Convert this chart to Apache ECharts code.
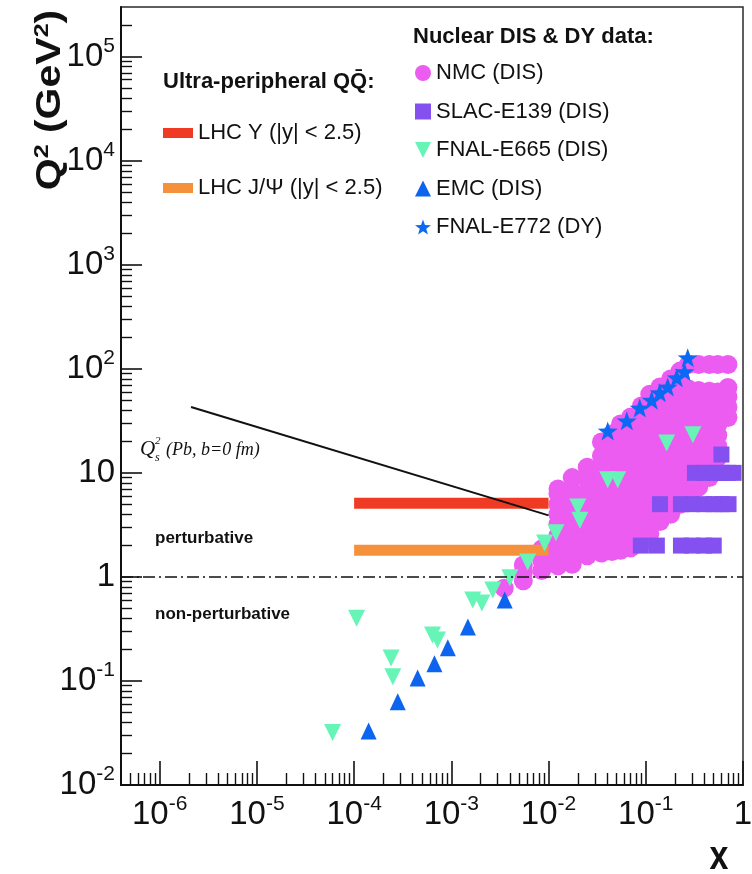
<!DOCTYPE html>
<html>
<head>
<meta charset="utf-8">
<title>Nuclear DIS &amp; DY kinematic coverage</title>
<script src="https://cdn.jsdelivr.net/npm/echarts@6/dist/echarts.min.js"></script>
<style>
  html, body { margin: 0; padding: 0; background: #ffffff; }
  #chart { width: 752px; height: 874px; }
</style>
</head>
<body>
<div id="chart"></div>
<script>
// ---- axes ----
const xRange = [4e-7, 1];
const yRange = [1e-2, 3e5];
const xTicks = [1e-6, 1e-5, 1e-4, 1e-3, 1e-2, 1e-1, 1];
const yTicks = [1e-2, 1e-1, 1, 10, 1e2, 1e3, 1e4, 1e5];

// ---- NMC (DIS): x bins and the Q^2 values measured in each bin ----
const nmcX = [0.0035, 0.0055, 0.0085, 0.0125, 0.0175, 0.025, 0.035, 0.045, 0.055, 0.07,
              0.09, 0.11, 0.14, 0.18, 0.225, 0.275, 0.35, 0.45, 0.55, 0.7];
const nmcQ2 = [
  [0.78],
  [0.92, 1.1, 1.3],
  [1.15, 1.45, 1.85],
  [1.28, 1.6, 2.0, 2.5, 3.2, 4.0, 5.0, 6.3, 7.0],
  [1.32, 1.65, 2.1, 2.6, 3.3, 4.2, 5.3, 6.7, 9.0],
  [1.6, 2.0, 2.55, 3.2, 4.1, 5.2, 6.6, 8.6, 11.3],
  [1.7, 2.15, 2.75, 3.5, 4.4, 5.6, 7.1, 9.0, 11.5, 14.6, 19.8],
  [1.75, 2.2, 2.8, 3.6, 4.5, 5.8, 7.3, 9.3, 11.8, 15, 19, 23.7],
  [1.8, 2.3, 2.9, 3.7, 4.7, 6.0, 7.6, 9.7, 12.3, 15.6, 19.8, 25, 29.5],
  [1.9, 2.45, 3.1, 4.0, 5.1, 6.5, 8.3, 10.5, 13.4, 17, 21.6, 27.5, 34.4],
  [2.1, 2.7, 3.4, 4.3, 5.5, 7.0, 8.9, 11.3, 14.3, 18.2, 23, 29, 36, 44],
  [2.6, 3.3, 4.2, 5.3, 6.7, 8.5, 10.8, 13.7, 17.4, 22, 28, 35.5, 45, 57],
  [3.4, 4.3, 5.5, 7.0, 8.9, 11.3, 14.3, 18.2, 23, 29, 37, 47, 58, 67],
  [4.0, 5.1, 6.5, 8.2, 10.4, 13.2, 16.8, 21.3, 27, 34, 43, 55, 68, 80],
  [5.0, 6.3, 8.0, 10.2, 13, 16.5, 21, 26.6, 34, 43, 54, 68, 82, 95],
  [6.0, 7.6, 9.7, 12.3, 15.6, 19.8, 25, 32, 40, 51, 64, 110],
  [7.3, 9.3, 11.8, 15, 19, 24, 30.5, 39, 49, 62, 110],
  [9.0, 11.4, 14.5, 18.4, 23.4, 29.7, 37.7, 48, 61, 110],
  [14, 18, 23, 29, 37, 47, 60, 110],
  [34, 43, 54, 66, 110]
];

// ---- SLAC-E139 (DIS) ----
const slacX  = [0.089, 0.13, 0.23, 0.3, 0.4, 0.5,
                0.14, 0.23, 0.3, 0.4, 0.5, 0.6, 0.71,
                0.32, 0.4, 0.5, 0.6, 0.7, 0.8,
                0.6];
const slacQ2 = [2, 2, 2, 2, 2, 2,
                5, 5, 5, 5, 5, 5, 5,
                10, 10, 10, 10, 10, 10,
                15];

// ---- FNAL-E665 (DIS) ----
const e665X  = [6.0e-5, 1.06e-4, 2.4e-4, 2.5e-4, 6.4e-4, 7.2e-4, 1.66e-3, 2.06e-3, 2.67e-3,
                4.0e-3, 6.1e-3, 9.1e-3, 0.0119, 0.020, 0.021, 0.0406, 0.0515, 0.164, 0.305];
const e665Q2 = [0.032, 0.40, 0.166, 0.11, 0.277, 0.248, 0.60, 0.56, 0.75,
                0.98, 1.39, 2.12, 2.65, 4.7, 3.5, 8.6, 8.6, 19.4, 23.2];

// ---- EMC (DIS) ----
const emcX  = [1.41e-4, 2.81e-4, 4.5e-4, 6.7e-4, 9.2e-4, 1.48e-3, 3.54e-3];
const emcQ2 = [0.033, 0.063, 0.107, 0.146, 0.208, 0.33, 0.60];

// ---- FNAL-E772 (DY) ----
const e772X  = [0.0406, 0.0638, 0.0867, 0.115, 0.139, 0.168, 0.208, 0.25, 0.27];
const e772Q2 = [25.3, 31.6, 42, 50, 59, 67, 82, 94, 128];

// ---- ultra-peripheral quarkonia coverage and saturation scale ----
const upsX = [1e-4, 1e-2];  const upsQ2 = 5.1;
const jpsiX = [1e-4, 1e-2]; const jpsiQ2 = 1.8;
const qsX = [2.1e-6, 1e-2]; const qsQ2 = [43, 3.9];
const perturbativeBoundary = 1;

// ---- names ----
const N_NMC = 'NMC (DIS)';
const N_SLAC = 'SLAC-E139 (DIS)';
const N_E665 = 'FNAL-E665 (DIS)';
const N_EMC = 'EMC (DIS)';
const N_E772 = 'FNAL-E772 (DY)';
const N_UPS = 'LHC \u03A5 (|y| < 2.5)';
const N_JPSI = 'LHC J/\u03A8 (|y| < 2.5)';

const COL = {
  nmc: '#ec5cf1', slac: '#8450ef', e665: '#66f5b6', emc: '#0d64ee', e772: '#0a6af4',
  ups: '#f03b24', jpsi: '#f5913a', ink: '#111111'
};
const SANS = "'Liberation Sans', Arial, Helvetica, sans-serif";
const SERIF = "'Liberation Serif', 'Times New Roman', serif";

// symbol shapes
const DOWN_TRI = 'path://M0,0L20,0L10,20Z';
const STAR = 'path://M10,0L12.35,6.76L19.51,6.91L13.8,11.24L15.88,18.09L10,14L4.12,18.09L6.2,11.24L0.49,6.91L7.65,6.76Z';

// minor ticks at 2..9 x 10^n inside an axis range
function minorTicks(range) {
  const out = [];
  const e0 = Math.floor(Math.log10(range[0]));
  const e1 = Math.ceil(Math.log10(range[1]));
  for (let e = e0; e <= e1; e++) {
    for (let k = 2; k <= 9; k++) {
      const v = k * Math.pow(10, e);
      if (v > range[0] && v < range[1]) out.push(v);
    }
  }
  return out;
}

function powLabel(v) {
  const e = Math.round(Math.log10(v));
  if (e === 0) return '{b|1}';
  if (e === 1) return '{b|10}';
  return '{b|10}{s|' + e + '}';
}
const labelRich = {
  b: { fontFamily: SANS, fontSize: 33, lineHeight: 42, color: COL.ink },
  s: { fontFamily: SANS, fontSize: 21, lineHeight: 21, verticalAlign: 'top', color: COL.ink }
};

const pairs = (xs, ys) => xs.map((x, i) => [x, ys[i]]);
const nmcData = [];
nmcX.forEach((x, i) => nmcQ2[i].forEach(q => nmcData.push([x, q])));

function logAxis(range, pos, major, extra) {
  return Object.assign({
    type: 'log', logBase: 10, min: range[0], max: range[1], position: pos,
    axisLine: { show: major, onZero: false, lineStyle: { color: COL.ink, width: 2 } },
    splitLine: { show: false }, minorTick: { show: false }, minorSplitLine: { show: false }
  }, extra);
}

function markers(name, symbol, size, color, data, z) {
  return {
    name: name, type: 'scatter', symbol: symbol, symbolSize: size, symbolKeepAspect: symbol === STAR,
    itemStyle: { color: color, opacity: 1 }, emphasis: { disabled: true },
    data: data, z: z
  };
}

function flatLine(name, color, width, data, z) {
  return {
    name: name, type: 'line', symbol: 'none', color: color,
    lineStyle: { color: color, width: width, cap: 'butt' },
    emphasis: { disabled: true }, data: data, z: z
  };
}

const option = {
  animation: false,
  backgroundColor: '#ffffff',
  grid: {
    left: 121, right: 9, top: 7, bottom: 89,
    show: true, borderColor: '#2a2a2a', borderWidth: 1.5, backgroundColor: 'transparent',
    containLabel: false, outerBoundsMode: 'none'
  },
  xAxis: [
    logAxis(xRange, 'bottom', true, {
      axisTick: { show: true, inside: true, length: 24, customValues: xTicks, lineStyle: { color: COL.ink, width: 1.6 } },
      axisLabel: { show: true, customValues: xTicks, margin: 9, formatter: powLabel, rich: labelRich }
    }),
    logAxis(xRange, 'bottom', false, {
      axisTick: { show: true, inside: true, length: 12, customValues: minorTicks(xRange), lineStyle: { color: COL.ink, width: 1.4 } },
      axisLabel: { show: false }
    })
  ],
  yAxis: [
    logAxis(yRange, 'left', true, {
      axisTick: { show: true, inside: true, length: 21, customValues: yTicks, lineStyle: { color: COL.ink, width: 1.6 } },
      axisLabel: { show: true, customValues: yTicks, margin: 6, formatter: powLabel, rich: labelRich }
    }),
    logAxis(yRange, 'left', false, {
      axisTick: { show: true, inside: true, length: 11, customValues: minorTicks(yRange), lineStyle: { color: COL.ink, width: 1.4 } },
      axisLabel: { show: false }
    })
  ],
  legend: [
    {
      left: 415, top: 61, orient: 'vertical', padding: 0, itemGap: 14.5,
      itemWidth: 16, itemHeight: 16, selectedMode: false,
      textStyle: { fontFamily: SANS, fontSize: 22, lineHeight: 24, color: COL.ink },
      data: [
        { name: N_NMC, icon: 'circle' },
        { name: N_SLAC, icon: 'rect' },
        { name: N_E665, icon: DOWN_TRI },
        { name: N_EMC, icon: 'triangle' },
        { name: N_E772, icon: STAR }
      ]
    },
    {
      left: 163, top: 121, orient: 'vertical', padding: 0, itemGap: 31,
      itemWidth: 30, itemHeight: 10, selectedMode: false,
      textStyle: { fontFamily: SANS, fontSize: 22, lineHeight: 24, color: COL.ink },
      data: [
        { name: N_UPS, icon: 'rect' },
        { name: N_JPSI, icon: 'rect' }
      ]
    }
  ],
  graphic: [
    {
      // rotated axis title, slightly condensed across the glyphs
      type: 'text', x: 50, y: 100, rotation: Math.PI / 2, scaleY: 0.84,
      style: {
        text: '{t|Q}{u|2}{t| (GeV}{u|2}{t|)}',
        align: 'center', verticalAlign: 'middle',
        rich: {
          t: { fontFamily: SANS, fontWeight: 'bold', fontSize: 41, lineHeight: 44, fill: COL.ink, color: COL.ink },
          u: { fontFamily: SANS, fontWeight: 'bold', fontSize: 25, lineHeight: 25, verticalAlign: 'top', fill: COL.ink, color: COL.ink }
        }
      }
    },
    {
      type: 'text', x: 719, y: 858, scaleX: 0.85,
      style: { text: 'x', font: 'bold 40px ' + SANS, fill: COL.ink, align: 'center', verticalAlign: 'middle' }
    },
    {
      type: 'text', x: 163, y: 82,
      style: { text: 'Ultra-peripheral Q\u0051\u0304:', font: 'bold 22px ' + SANS, fill: COL.ink, align: 'left', verticalAlign: 'middle' }
    },
    {
      type: 'text', x: 413, y: 37,
      style: { text: 'Nuclear DIS & DY data:', font: 'bold 22px ' + SANS, fill: COL.ink, align: 'left', verticalAlign: 'middle' }
    },
    {
      type: 'text', x: 155, y: 538,
      style: { text: 'perturbative', font: 'bold 17px ' + SANS, fill: COL.ink, align: 'left', verticalAlign: 'middle' }
    },
    {
      type: 'text', x: 155, y: 614,
      style: { text: 'non-perturbative', font: 'bold 17px ' + SANS, fill: COL.ink, align: 'left', verticalAlign: 'middle' }
    },
    {
      type: 'text', x: 140, y: 449,
      style: { text: 'Q', font: 'italic 21px ' + SERIF, fill: COL.ink, align: 'left', verticalAlign: 'middle' }
    },
    {
      type: 'text', x: 155, y: 441,
      style: { text: '2', font: 'italic 11px ' + SERIF, fill: COL.ink, align: 'left', verticalAlign: 'middle' }
    },
    {
      type: 'text', x: 155, y: 458,
      style: { text: 's', font: 'italic 12px ' + SERIF, fill: COL.ink, align: 'left', verticalAlign: 'middle' }
    },
    {
      type: 'text', x: 166, y: 450,
      style: { text: '(Pb, b=0 fm)', font: 'italic 18px ' + SERIF, fill: COL.ink, align: 'left', verticalAlign: 'middle' }
    }
  ],
  series: [
    markers(N_NMC, 'circle', 19, COL.nmc, nmcData, 2),
    markers(N_SLAC, 'rect', 16, COL.slac, pairs(slacX, slacQ2), 3),
    markers(N_E665, DOWN_TRI, [17, 17], COL.e665, pairs(e665X, e665Q2), 4),
    markers(N_EMC, 'triangle', [16, 17], COL.emc, pairs(emcX, emcQ2), 4),
    markers(N_E772, STAR, 20, COL.e772, pairs(e772X, e772Q2), 5),
    flatLine(N_UPS, COL.ups, 11, upsX.map(x => [x, upsQ2]), 3),
    flatLine(N_JPSI, COL.jpsi, 11, jpsiX.map(x => [x, jpsiQ2]), 3),
    Object.assign(flatLine('Qs2', COL.ink, 2, pairs(qsX, qsQ2), 6), {
      markLine: {
        silent: true, symbol: ['none', 'none'], label: { show: false },
        lineStyle: { color: COL.ink, width: 1.6, type: [12, 4, 2, 4] },
        data: [{ yAxis: perturbativeBoundary }]
      }
    })
  ]
};

const chart = echarts.init(document.getElementById('chart'), null, { renderer: 'canvas' });
chart.setOption(option);
</script>
</body>
</html>
